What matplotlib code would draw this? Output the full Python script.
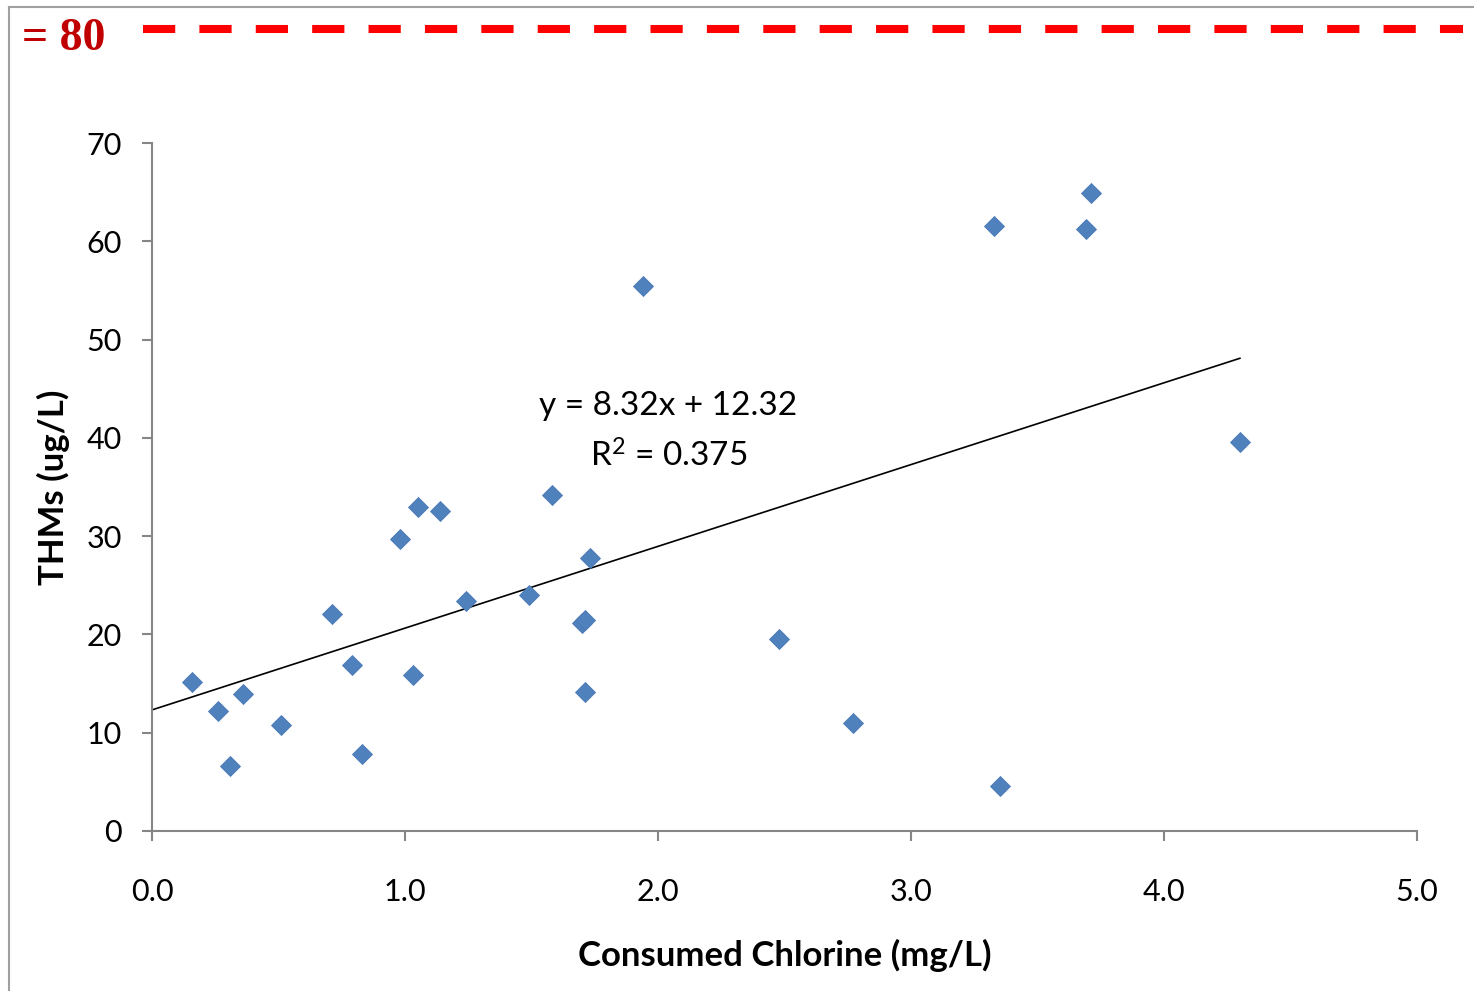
import matplotlib
matplotlib.use("Agg")
import matplotlib.pyplot as plt
from matplotlib.lines import Line2D

# Consumed chlorine (mg/L) vs THMs (ug/L)
chlorine = [0.16, 0.26, 0.31, 0.36, 0.51, 0.71, 0.79, 0.83, 0.98, 1.03,
            1.05, 1.14, 1.24, 1.49, 1.58, 1.70, 1.71, 1.71, 1.73, 1.94,
            2.48, 2.77, 3.33, 3.35, 3.69, 3.71, 4.30]
thms = [15.2, 12.2, 6.6, 13.9, 10.8, 22.1, 16.9, 7.8, 29.7, 15.9,
        33.0, 32.6, 23.4, 24.0, 34.2, 21.2, 21.5, 14.1, 27.8, 55.5,
        19.5, 11.0, 61.6, 4.6, 61.2, 64.9, 39.6]

slope = 8.32
intercept = 12.32
r_squared = 0.375
limit_label = "= 80"

W, H = 1474, 991
fig = plt.figure(figsize=(W / 100, H / 100), dpi=100)
plt.rcParams["font.family"] = ["Lato", "DejaVu Sans"]
plt.rcParams["mathtext.fontset"] = "custom"
plt.rcParams["mathtext.rm"] = "Lato"
plt.rcParams["mathtext.default"] = "regular"

ax = fig.add_axes([152 / W, (H - 831) / H, (1417 - 152) / W, (831 - 143) / H])

ax.plot(chlorine, thms, linestyle="none", marker="D", markersize=10,
        color="#4F81BD", markeredgecolor="#4A7AB5", markeredgewidth=0.6,
        zorder=3)

x_fit = [0, max(chlorine)]
y_fit = [intercept + slope * v for v in x_fit]
ax.plot(x_fit, y_fit, color="black", linewidth=1.2, zorder=2)

ax.text(2.04, 43.2, f"y = {slope:.2f}x + {intercept:.2f}",
        ha="center", va="center", fontsize=24)
ax.text(2.04, 38.1, f"R$^{{2}}$ = {r_squared:.3f}",
        ha="center", va="center", fontsize=24)

ax.set_xlim(0, 5)
ax.set_ylim(0, 70)
ax.set_xticks([0, 1, 2, 3, 4, 5])
ax.set_xticklabels([f"{v:.1f}" for v in range(6)])
ax.set_yticks(range(0, 71, 10))

for side in ("top", "right"):
    ax.spines[side].set_visible(False)
for side in ("left", "bottom"):
    ax.spines[side].set_color("#868686")
    ax.spines[side].set_linewidth(1.5)

ax.tick_params(axis="both", direction="out", length=7.5, width=1.5,
               color="#868686", labelsize=22)
ax.tick_params(axis="y", pad=14)
ax.tick_params(axis="x", pad=26)

ax.set_xlabel("Consumed Chlorine (mg/L)", fontsize=25, fontweight="bold",
              labelpad=24)
ax.set_ylabel("THMs (ug/L)", fontsize=25, fontweight="bold", labelpad=12)

# outer frame (left and top edges)
fig.add_artist(Line2D([8.5 / W, 8.5 / W], [0, 1 - 7 / H], transform=fig.transFigure,
                      color="#A0A0A0", linewidth=1.5))
fig.add_artist(Line2D([8.5 / W, 1], [1 - 7 / H, 1 - 7 / H], transform=fig.transFigure,
                      color="#A0A0A0", linewidth=1.5))

# guideline limit dashed line
fig.add_artist(Line2D([143 / W, 1463 / W], [1 - 29 / H, 1 - 29 / H],
                      transform=fig.transFigure, color="#FF0000",
                      linewidth=5.8, dashes=(4, 3), solid_capstyle="butt",
                      dash_capstyle="butt"))
fig.text(22 / W, 1 - 50 / H, limit_label, family="Liberation Serif",
         fontweight="bold", fontsize=33, color="#C00000", ha="left",
         va="baseline")

fig.savefig("out.png", dpi=100)
